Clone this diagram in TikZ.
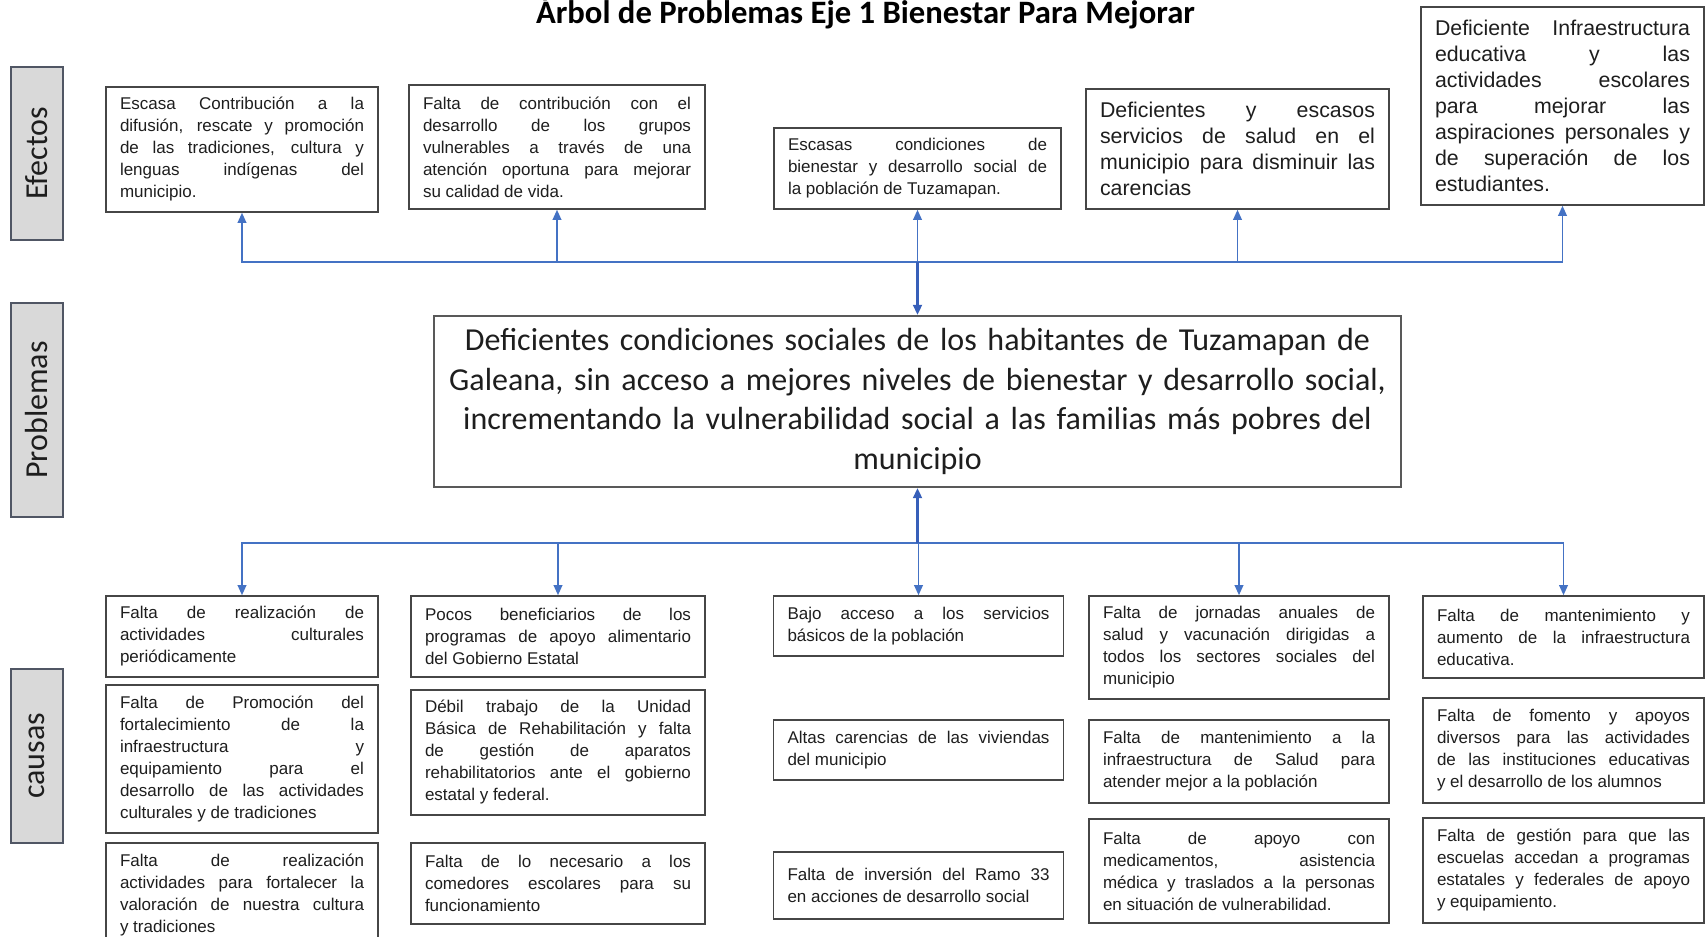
\documentclass[tikz,border=0pt]{standalone}
\usepackage{fontspec}
\setmainfont{Liberation Sans}
\newfontfamily\calibri{Carlito}
\usetikzlibrary{arrows.meta}

\definecolor{azul}{RGB}{68,114,196}
\definecolor{azulosc}{RGB}{55,95,185}
\definecolor{borde}{RGB}{70,70,70}
\definecolor{gris}{RGB}{217,217,217}
\definecolor{bordeg}{RGB}{80,86,100}
\definecolor{texto}{RGB}{30,30,30}

\tolerance=10000
\hyphenpenalty=10000

\tikzset{every picture/.style={line width=0.75pt}}
\tikzset{
  caja/.style={draw=borde, line width=1.2pt, fill=white, text=texto, align=justify,
    inner xsep=10.5pt, inner ysep=3pt, font=\fontsize{12.75}{16.5}\selectfont},
  cajagrande/.style={caja, font=\fontsize{16}{19.5}\selectfont},
  problema/.style={draw=borde!90, line width=1.6pt, fill=white, text=texto, align=center,
    inner xsep=0pt, text width=725pt, minimum height=128.25pt,
    font=\calibri\fontsize{24}{29.8}\selectfont},
  etiqueta/.style={draw=bordeg, line width=1.5pt, fill=gris, text=texto, rotate=90,
    minimum height=39pt, inner sep=0pt, font=\calibri\fontsize{24}{28}\selectfont},
  flecha/.style={draw=azul, line width=1.1pt, -{Triangle[length=7.5pt,width=6.5pt]}},
  flechag/.style={draw=azulosc, line width=1.9pt, -{Triangle[length=7.5pt,width=6.5pt]}}
}

\begin{document}
\begin{tikzpicture}[x=0.75pt,y=0.75pt,yscale=-1,xscale=1]
\clip (0,0) rectangle (1706,937);

% Titulo
\node [anchor=base, text=black, font=\calibri\bfseries\fontsize{24.5}{29}\selectfont] (titulo) at (865.5,24) {Árbol de Problemas Eje 1 Bienestar Para Mejorar};

% Etiquetas laterales
\node [etiqueta, minimum width=129.75pt] (efectos) at (37,153.5) {Efectos};
\node [etiqueta, minimum width=160.5pt] (problemas) at (37,410) {Problemas};
\node [etiqueta, minimum width=130.5pt] (causas) at (37,756) {causas};

% Efectos
\node [caja, text width=183pt, minimum height=93.75pt] (e1) at (242,149.5) {Escasa Contribución a la\linebreak difusión, rescate y promoción\linebreak de las tradiciones, cultura y\linebreak lenguas indígenas del\linebreak municipio.};
\node [caja, text width=201pt, minimum height=93pt] (e2) at (557,147) {Falta de contribución con el\linebreak desarrollo de los grupos\linebreak vulnerables a través de una\linebreak atención oportuna para mejorar\linebreak su calidad de vida.};
\node [caja, text width=194.25pt, minimum height=60.75pt] (e3) at (917.5,168.5) {Escasas condiciones de\linebreak bienestar y desarrollo social de\linebreak la población de Tuzamapan.};
\node [cajagrande, text width=206.25pt, minimum height=90pt] (e4) at (1237.5,149) {Deficientes y escasos\linebreak servicios de salud en el\linebreak municipio para disminuir las\linebreak carencias};
\node [cajagrande, text width=191.25pt, minimum height=148.5pt] (e5) at (1562.5,106) {Deficiente Infraestructura\linebreak educativa y las\linebreak actividades escolares\linebreak para mejorar las\linebreak aspiraciones personales y\linebreak de superación de los\linebreak estudiantes.};

% Problema central
\node [problema] (prob) at (917.5,401.5) {Deficientes condiciones sociales de los habitantes de Tuzamapan de\\ Galeana, sin acceso a mejores niveles de bienestar y desarrollo social,\\ incrementando la vulnerabilidad social a las familias más pobres del\\ municipio};

% Causas columna 1
\node [caja, text width=183pt, minimum height=60.75pt] (c11) at (242,636.5) {Falta de realización de\linebreak actividades culturales\linebreak periódicamente};
\node [caja, text width=183pt, minimum height=111pt] (c12) at (242,759) {Falta de Promoción del\linebreak fortalecimiento de la\linebreak infraestructura y\linebreak equipamiento para el\linebreak desarrollo de las actividades\linebreak culturales y de tradiciones};
\node [caja, text width=183pt, minimum height=78.75pt] (c13) at (242,895.5) {Falta de realización\linebreak actividades para fortalecer la\linebreak valoración de nuestra cultura\linebreak y tradiciones};
% Causas columna 2
\node [caja, text width=199.5pt, minimum height=60.75pt] (c21) at (558,636.5) {Pocos beneficiarios de los\linebreak programas de apoyo alimentario\linebreak del Gobierno Estatal};
\node [caja, text width=199.5pt, minimum height=93.75pt] (c22) at (558,752.5) {Débil trabajo de la Unidad\linebreak Básica de Rehabilitación y falta\linebreak de gestión de aparatos\linebreak rehabilitatorios ante el gobierno\linebreak estatal y federal.};
\node [caja, text width=199.5pt, minimum height=60.75pt] (c23) at (558,883.5) {Falta de lo necesario a los\linebreak comedores escolares para su\linebreak funcionamiento};
% Causas columna 3
\node [caja, text width=196.5pt, minimum height=45pt] (c31) at (918.5,626) {Bajo acceso a los servicios\linebreak básicos de la población};
\node [caja, text width=196.5pt, minimum height=45pt] (c32) at (918.5,750) {Altas carencias de las viviendas\linebreak del municipio};
\node [caja, text width=196.5pt, minimum height=50.25pt] (c33) at (918.5,885.5) {Falta de inversión del Ramo 33\linebreak en acciones de desarrollo social};
% Causas columna 4
\node [caja, text width=204pt, minimum height=77.25pt] (c41) at (1239,647.5) {Falta de jornadas anuales de\linebreak salud y vacunación dirigidas a\linebreak todos los sectores sociales del\linebreak municipio};
\node [caja, text width=204pt, minimum height=62.25pt] (c42) at (1239,761.5) {Falta de mantenimiento a la\linebreak infraestructura de Salud para\linebreak atender mejor a la población};
\node [caja, text width=204pt, minimum height=78pt] (c43) at (1239,871) {Falta de apoyo con\linebreak medicamentos, asistencia\linebreak médica y traslados a la personas\linebreak en situación de vulnerabilidad.};
% Causas columna 5
\node [caja, text width=189.75pt, minimum height=61.5pt] (c51) at (1563.5,637) {Falta de mantenimiento y\linebreak aumento de la infraestructura\linebreak educativa.};
\node [caja, text width=189.75pt, minimum height=78.75pt] (c52) at (1563.5,750.5) {Falta de fomento y apoyos\linebreak diversos para las actividades\linebreak de las instituciones educativas\linebreak y el desarrollo de los alumnos};
\node [caja, text width=189.75pt, minimum height=78.75pt] (c53) at (1563.5,870.5) {Falta de gestión para que las\linebreak escuelas accedan a programas\linebreak estatales y federales de apoyo\linebreak y equipamiento.};

% Conectores efectos
\coordinate (nudoE) at (917.5,262);
\draw [flecha] (nudoE) -| (e1.south);
\draw [flecha] (nudoE) -| (e2.south);
\draw [flecha] (nudoE) -- (e3.south);
\draw [flecha] (nudoE) -| (e4.south);
\draw [flecha] (nudoE) -| (e5.south);
\draw [flechag] (nudoE) -- (prob.north);

% Conectores causas
\coordinate (nudoC) at (917.5,543);
\draw [flecha] (nudoC) -| (c11.north);
\draw [flecha] (nudoC) -| (c21.north);
\draw [flecha] (nudoC) -| (c31.north);
\draw [flecha] (nudoC) -| (c41.north);
\draw [flecha] (nudoC) -| (c51.north);
\draw [flechag] (nudoC) -- (prob.south);

\end{tikzpicture}
\end{document}
